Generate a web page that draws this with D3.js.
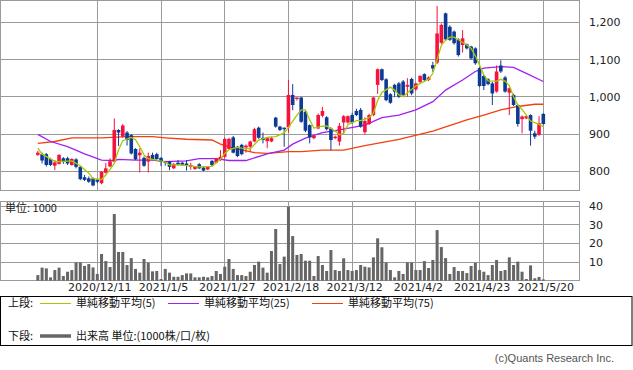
<!DOCTYPE html>
<html>
<head>
<meta charset="utf-8">
<script src="https://cdn.jsdelivr.net/npm/d3@7"></script>
<style>
body { margin: 0; background: #fff; }
svg { display: block; font-family: "DejaVu Sans", sans-serif; }
</style>
</head>
<body>
<svg id="chart" width="633" height="370"></svg>
<script>
// date ticks (trading day index -> label)
const tickIdx = [14, 29, 44, 59, 74, 89, 104, 119];
const tickLabels = ["2020/12/11", "2021/1/5", "2021/1/27", "2021/2/18", "2021/3/12", "2021/4/2", "2021/4/23", "2021/5/20"];
const priceTicks = [800, 900, 1000, 1100, 1200];
const volTicks = [10, 20, 30, 40];

// daily OHLC, 2020/11/20 .. 2021/5/20
const open = [
  844, 846, 846, 833, 815, 820, 835, 835, 817, 832,
  812, 784, 781, 781, 777, 768, 796, 813, 826, 911,
  893, 904, 897, 860, 843, 836, 826, 844, 846, 836,
  826, 826, 808, 823, 823, 821, 812, 806, 819, 810,
  805, 828, 823, 830, 839, 860, 891, 866, 871, 864,
  866, 880, 917, 890, 881, 880, 944, 920, 917, 918,
  1005, 994, 998, 960, 924, 889, 915, 949, 945, 915,
  889, 880, 931, 931, 951, 962, 965, 905, 927, 951,
  1032, 1074, 1047, 1007, 1032, 1036, 1041, 1027, 1048, 1020,
  1040, 1061, 1045, 1085, 1092, 1145, 1224, 1188, 1175, 1154,
  1139, 1141, 1135, 1130, 1077, 1056, 1047, 1036, 1014, 1084,
  1052, 1011, 1005, 978, 940, 942, 951, 902, 898, 954
];
const close = [
  850, 829, 817, 817, 824, 844, 826, 821, 833, 812,
  779, 777, 772, 762, 772, 799, 808, 827, 911, 904,
  923, 884, 848, 832, 850, 815, 841, 832, 833, 826,
  824, 812, 820, 818, 818, 817, 817, 812, 808, 802,
  812, 817, 834, 839, 887, 887, 850, 841, 846, 869,
  880, 913, 890, 884, 889, 889, 920, 911, 913, 1005,
  978, 998, 933, 909, 891, 895, 951, 962, 913, 884,
  893, 922, 948, 948, 931, 951, 920, 935, 951, 998,
  1074, 1045, 991, 984, 1014, 1000, 1005, 1032, 1009, 1036,
  1056, 1045, 1052, 1076, 1170, 1193, 1154, 1153, 1144, 1112,
  1157, 1130, 1103, 1090, 1029, 1029, 1034, 1009, 1068, 1068,
  1014, 1023, 978, 927, 947, 948, 909, 893, 929, 927
];
const high = [
  855, 850, 849, 836, 830, 846, 838, 839, 835, 835,
  814, 790, 786, 784, 780, 800, 822, 835, 942, 913,
  927, 908, 900, 862, 862, 840, 850, 850, 850, 838,
  828, 828, 822, 830, 826, 830, 823, 814, 822, 812,
  814, 830, 836, 857, 890, 890, 895, 868, 874, 872,
  882, 917, 920, 904, 891, 893, 946, 922, 918, 1045,
  1034, 998, 1000, 962, 926, 898, 955, 973, 948, 918,
  896, 930, 951, 950, 957, 968, 970, 945, 955, 1000,
  1076, 1076, 1050, 1010, 1035, 1040, 1045, 1050, 1051, 1038,
  1058, 1063, 1055, 1094, 1244, 1197, 1226, 1192, 1178, 1157,
  1179, 1143, 1137, 1133, 1080, 1059, 1050, 1040, 1084, 1098,
  1056, 1025, 1008, 980, 950, 950, 953, 909, 948, 956
];
const low = [
  841, 821, 813, 814, 803, 818, 820, 817, 815, 808,
  776, 774, 769, 760, 768, 765, 794, 811, 824, 868,
  890, 869, 845, 830, 797, 812, 797, 830, 828, 814,
  815, 803, 806, 815, 816, 802, 804, 804, 806, 800,
  803, 814, 821, 828, 835, 858, 848, 838, 843, 850,
  853, 878, 887, 875, 862, 878, 917, 908, 866, 904,
  964, 990, 930, 905, 875, 886, 913, 945, 910, 857,
  886, 869, 901, 928, 928, 948, 917, 899, 924, 948,
  1008, 1042, 988, 981, 999, 997, 1000, 1000, 1004, 1016,
  1035, 1041, 1042, 1067, 1088, 1142, 1150, 1150, 1140, 1108,
  1119, 1127, 1100, 1086, 1026, 1018, 1031, 978, 1011, 1064,
  1011, 951, 975, 920, 902, 940, 869, 887, 895, 925
];
// volume, 1000 shares
const volume = [
  3, 7, 6.6, 1.8, 5.7, 7, 2.5, 4.8, 5.7, 9.8,
  9.8, 7.9, 8.9, 7.1, 3.6, 14.3, 10.5, 7.3, 35.7, 15.4,
  15.4, 8.4, 12.1, 6.3, 4.3, 11.6, 9.6, 5, 5.2, 0.9,
  6.3, 4.3, 2.1, 2.1, 3, 3.9, 3.9, 1.8, 1.8, 2.1,
  1.8, 2.5, 5.2, 3.6, 7.5, 11.6, 6.3, 3, 3, 2.5,
  4.8, 8.4, 10.2, 7, 4.3, 15.9, 27.7, 8.9, 12.9, 39.6,
  23.9, 13.8, 14.3, 10.7, 10.7, 2.5, 13.2, 8.4, 5.2, 16.4,
  5.7, 5.2, 12, 5.7, 5.2, 5.7, 8.4, 7.5, 7.1, 12.5,
  22.7, 17.9, 9.8, 5.7, 1.8, 5.2, 3.6, 9.8, 9.8, 5.7,
  5.7, 10.5, 6.8, 11.1, 27.1, 18, 12.1, 3.6, 7.3, 5.2,
  5.2, 4.1, 7.9, 9.6, 5.7, 4.8, 3, 8.4, 11.1, 5.2,
  5.7, 12.5, 8.4, 10.2, 4.8, 0.9, 8.2, 1.3, 2, 0.7
];
// moving averages: [day index, value]
const ma5 = [[0,862],[1,846],[4,827],[5,826],[8,828],[10,815],[12,795],[13,780],[15,778],[16,790],[18,821],[19,858],[20,882],[22,891],[23,885],[24,866],[25,844],[26,834],[28,830],[30,825],[31,817],[33,817],[35,815],[38,812],[41,813],[42,823],[43,832],[44,848],[45,858],[47,864],[48,862],[50,860],[51,872],[52,884],[54,891],[56,893],[58,903],[59,918],[61,951],[62,965],[63,965],[64,938],[65,916],[67,921],[68,922],[70,908],[71,898],[72,902],[73,925],[75,936],[76,936],[78,944],[79,956],[80,990],[81,1012],[83,1026],[84,1018],[85,1005],[86,1000],[87,1011],[89,1029],[90,1036],[92,1047],[93,1063],[94,1100],[95,1138],[96,1152],[97,1160],[98,1160],[99,1153],[101,1139],[102,1130],[103,1110],[104,1085],[105,1059],[106,1043],[108,1042],[109,1047],[110,1042],[111,1030],[112,1000],[113,978],[114,966],[115,951],[116,935],[118,926],[119,920]];
const ma25 = [[0,899],[3,880],[7,866],[11,847],[15,830],[18,829],[19,832],[23,830],[27,830],[30,826],[35,828],[38,834],[42,834],[45,829],[49,829],[54,847],[58,857],[60,873],[63,889],[67,904],[71,911],[77,924],[81,944],[85,951],[89,965],[93,987],[96,1018],[100,1045],[103,1068],[105,1077],[109,1081],[112,1079],[115,1063],[119,1041]];
const ma75 = [[0,875],[4,880],[8,890],[15,890],[21,893],[27,893],[30,890],[35,886],[41,884],[43,873],[46,862],[51,850],[54,848],[59,853],[62,853],[67,857],[72,857],[77,869],[85,886],[93,908],[101,938],[105,951],[109,965],[113,974],[117,980],[119,980]];

const RED = "#f5123c", BLUE = "#0d3a94", GRID = "#9a9a9a";

const svg = d3.select("#chart");
const W = 579;

const x = d3.scaleLinear().domain([14, 119]).range([97.3, 543.3]);
const y = d3.scaleLinear().domain([800, 1200]).range([171.3, 22.3]);
const yv = d3.scaleLinear().domain([0, 40]).range([280.7, 206]);

const px = v => Math.floor(v) + 0.5;

// grids
const grid = svg.append("g").attr("stroke", GRID).attr("stroke-width", 1).attr("fill", "none");
grid.selectAll(".gx").data(tickIdx).enter().append("line")
  .attr("x1", d => px(x(d))).attr("x2", d => px(x(d))).attr("y1", 0).attr("y2", 190.5);
grid.selectAll(".gxv").data(tickIdx).enter().append("line")
  .attr("x1", d => px(x(d))).attr("x2", d => px(x(d))).attr("y1", 201.5).attr("y2", 280.5);
grid.selectAll(".gy").data(priceTicks).enter().append("line")
  .attr("x1", 0).attr("x2", W).attr("y1", d => px(y(d))).attr("y2", d => px(y(d)));
grid.selectAll(".gyv").data(volTicks).enter().append("line")
  .attr("x1", 0).attr("x2", W).attr("y1", d => px(yv(d))).attr("y2", d => px(yv(d)));
grid.append("rect").attr("x", 0.5).attr("y", 0.5).attr("width", W).attr("height", 190);
grid.append("rect").attr("x", 0.5).attr("y", 201.5).attr("width", W).attr("height", 79);

// moving averages
const line = d3.line().x(d => x(d[0])).y(d => y(d[1]));
svg.append("path").datum(ma75).attr("d", line).attr("fill", "none").attr("stroke", "#f2400f").attr("stroke-width", 1.3);
svg.append("path").datum(ma25).attr("d", line).attr("fill", "none").attr("stroke", "#a020f0").attr("stroke-width", 1.3);

// candles
const days = d3.range(open.length);
const candles = svg.append("g");
candles.selectAll("line").data(days).enter().append("line")
  .attr("x1", i => x(i)).attr("x2", i => x(i))
  .attr("y1", i => y(high[i])).attr("y2", i => y(low[i]))
  .attr("stroke", i => close[i] >= open[i] ? RED : BLUE).attr("stroke-width", 1);
candles.selectAll("rect").data(days).enter().append("rect")
  .attr("x", i => x(i) - 1.8).attr("width", 3.6)
  .attr("y", i => y(Math.max(open[i], close[i])))
  .attr("height", i => Math.max(1, Math.abs(y(open[i]) - y(close[i]))))
  .attr("fill", i => close[i] >= open[i] ? RED : BLUE);

svg.append("path").datum(ma5).attr("d", line).attr("fill", "none").attr("stroke", "#a8c800").attr("stroke-width", 1.3);

// volume bars
svg.append("g").selectAll("rect").data(days).enter().append("rect")
  .attr("x", i => x(i) - 1.5).attr("width", 3)
  .attr("y", i => yv(volume[i])).attr("height", i => yv(0) - yv(volume[i]))
  .attr("fill", "#666");

// axes
const styleAxis = g => {
  g.select(".domain").remove();
  g.selectAll("text").attr("fill", "#222").style("font-size", "11px").style("font-family", "DejaVu Sans, sans-serif");
};
svg.append("g").attr("transform", "translate(584,0)")
  .call(d3.axisRight(y).tickValues(priceTicks).tickFormat(d3.format(",")).tickSize(0).tickPadding(5))
  .call(styleAxis);
svg.append("g").attr("transform", "translate(584,0)")
  .call(d3.axisRight(yv).tickValues(volTicks).tickSize(0).tickPadding(5))
  .call(styleAxis);
svg.append("g").attr("transform", "translate(2,280)")
  .call(d3.axisBottom(x).tickValues(tickIdx).tickFormat((d, i) => tickLabels[i]).tickSize(0).tickPadding(3))
  .call(styleAxis);

svg.append("text").attr("x", 5).attr("y", 212).text("単位: 1000")
  .style("font-size", "11px").style("font-family", "Noto Sans CJK JP").attr("fill", "#222");

// legend
const lg = svg.append("g").style("font-family", "Noto Sans CJK JP").style("font-size", "11px").attr("fill", "#111");
lg.append("rect").attr("x", 0.5).attr("y", 296.5).attr("width", 631.5).attr("height", 49).attr("fill", "none").attr("stroke", "#000");
lg.append("text").attr("x", 8).attr("y", 307).text("上段:");
const items = [["単純移動平均(5)", "#a8c800", 40], ["単純移動平均(25)", "#a020f0", 168], ["単純移動平均(75)", "#f2400f", 312]];
items.forEach(d => {
  lg.append("line").attr("x1", d[2]).attr("x2", d[2] + 31).attr("y1", 303.5).attr("y2", 303.5).attr("stroke", d[1]).attr("stroke-width", 1);
  lg.append("text").attr("x", d[2] + 36).attr("y", 307).text(d[0]);
});
lg.append("text").attr("x", 8).attr("y", 340).text("下段:");
lg.append("line").attr("x1", 40).attr("x2", 71).attr("y1", 336).attr("y2", 336).attr("stroke", "#666").attr("stroke-width", 3.5);
lg.append("text").attr("x", 76).attr("y", 340).text("出来高 単位:(1000株/口/枚)");

svg.append("text").attr("x", 614).attr("y", 362).attr("text-anchor", "end")
  .text("(c)Quants Research Inc.")
  .style("font-family", "Liberation Sans, sans-serif").style("font-size", "11px").attr("fill", "#555");
</script>
</body>
</html>
